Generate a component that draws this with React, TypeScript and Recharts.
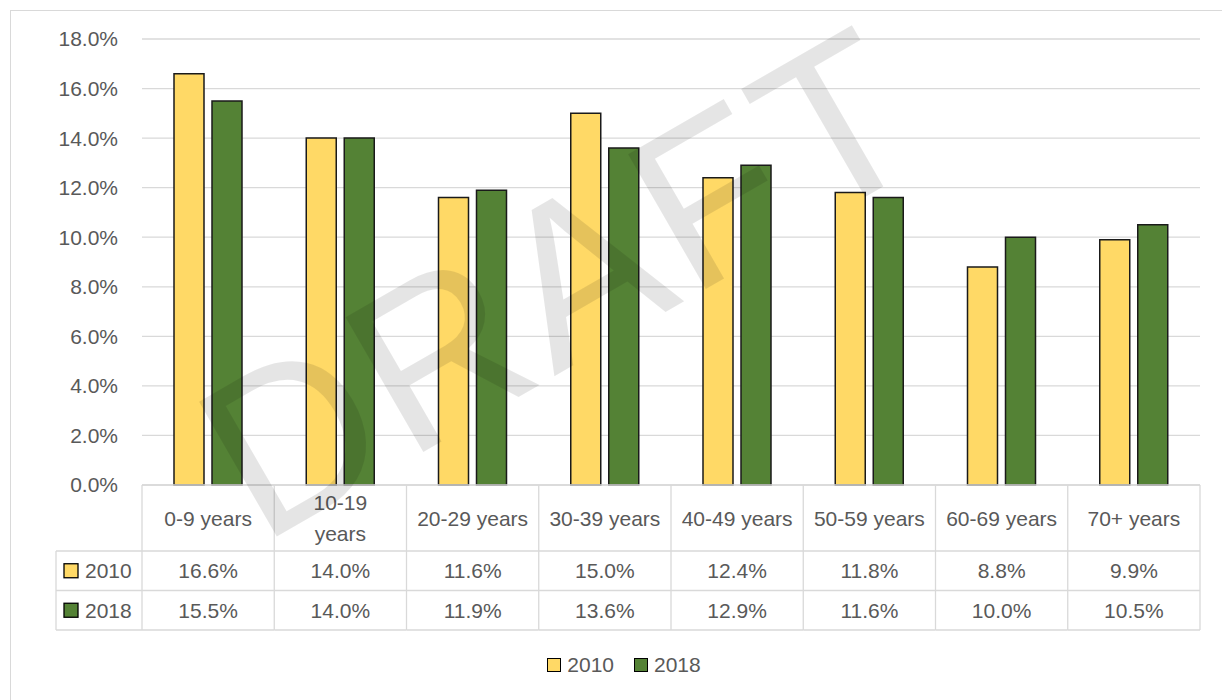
import React from 'react';
import { BarChart, Bar, XAxis, YAxis, CartesianGrid, Legend } from 'recharts';

const categories = ['0-9 years', '10-19 years', '20-29 years', '30-39 years', '40-49 years', '50-59 years', '60-69 years', '70+ years'];
const values2010 = [16.6, 14.0, 11.6, 15.0, 12.4, 11.8, 8.8, 9.9];
const values2018 = [15.5, 14.0, 11.9, 13.6, 12.9, 11.6, 10.0, 10.5];
const yTicks = [0, 2, 4, 6, 8, 10, 12, 14, 16, 18];

const series = [
  { key: 'v2010', name: '2010', values: values2010, color: '#FFD966' },
  { key: 'v2018', name: '2018', values: values2018, color: '#548235' },
];

const data = categories.map((c, i) => ({ name: c, v2010: values2010[i], v2018: values2018[i] }));

const FONT = '"Liberation Sans", Arial, sans-serif';
const TEXT = '#595959';
const LINE = '#d9d9d9';
const W = 1222;
const H = 700;
const M_LEFT = 62;
const Y_W = 80;
const M_RIGHT = 22;
const CELL = (W - M_LEFT - Y_W - M_RIGHT) / categories.length;
const KEY_COL = 86;
const ROW_HEAD = 66;
const ROW_H = 39.5;

const fmt = (v: number) => v.toFixed(1) + '%';

// header labels that Excel wraps onto two lines
const headerLines = (label: string) => (label === '10-19 years' ? ['10-19', 'years'] : [label]);

const TableTick = (props: any) => {
  const { x, y, payload } = props;
  const i = payload.index;
  const half = CELL / 2;
  const l = x - half;
  const r = x + half;
  const r1 = y + ROW_HEAD;
  const r2 = r1 + ROW_H;
  const r3 = r2 + ROW_H;
  const lines = headerLines(payload.value);
  const txt = { fontFamily: FONT, fontSize: 21, fill: TEXT, textAnchor: 'middle' as const, dominantBaseline: 'central' as const };
  return (
    <g>
      {i === 0 && <line x1={l} y1={y} x2={l} y2={r3} stroke={LINE} strokeWidth={1.3} />}
      <line x1={r} y1={y} x2={r} y2={r3} stroke={LINE} strokeWidth={1.3} />
      {[r1, r2, r3].map((yy) => (
        <line key={yy} x1={l} y1={yy} x2={r} y2={yy} stroke={LINE} strokeWidth={1.3} />
      ))}
      {lines.map((t, k) => (
        <text key={k} x={x} y={y + 33 + (k - (lines.length - 1) / 2) * 31} {...txt}>{t}</text>
      ))}
      {series.map((s, k) => (
        <text key={s.key} x={x} y={r1 + ROW_H * k + ROW_H / 2} {...txt}>{fmt(s.values[i])}</text>
      ))}
      {i === 0 && (
        <g>
          <line x1={l - KEY_COL} y1={r1} x2={l - KEY_COL} y2={r3} stroke={LINE} strokeWidth={1.3} />
          {[r1, r2, r3].map((yy) => (
            <line key={yy} x1={l - KEY_COL} y1={yy} x2={l} y2={yy} stroke={LINE} strokeWidth={1.3} />
          ))}
          {series.map((s, k) => (
            <g key={s.key}>
              <rect x={l - KEY_COL + 8} y={r1 + ROW_H * k + ROW_H / 2 - 7} width={14} height={14} fill={s.color} stroke="#000" strokeWidth={1.3} />
              <text x={l - KEY_COL + 29} y={r1 + ROW_H * k + ROW_H / 2} fontFamily={FONT} fontSize={21} fill={TEXT} dominantBaseline="central">{s.name}</text>
            </g>
          ))}
        </g>
      )}
    </g>
  );
};

const LegendContent = (props: any) => {
  const { payload } = props;
  return (
    <div style={{ display: 'flex', justifyContent: 'center', alignItems: 'center', height: 30, paddingRight: 14 }}>
      {(payload || []).map((e: any, k: number) => (
        <div key={k} style={{ display: 'flex', alignItems: 'center', marginLeft: k ? 20 : 0 }}>
          <span style={{ width: 12, height: 12, background: e.color, border: '1.3px solid #000', marginRight: 6, display: 'inline-block' }} />
          <span style={{ fontFamily: FONT, fontSize: 21, color: TEXT }}>{e.value}</span>
        </div>
      ))}
    </div>
  );
};

export default function App() {
  return (
    <div style={{ position: 'absolute', left: 0, top: 0, width: W, height: H, overflow: 'hidden', background: '#fff' }}>
      <div style={{ position: 'absolute', left: 10, top: 10, width: W, height: H, border: `1px solid ${LINE}` }} />
      <BarChart
        width={W}
        height={H}
        data={data}
        margin={{ top: 39, right: M_RIGHT, left: M_LEFT, bottom: 20 }}
        barSize={30}
        barGap={8}
        style={{ position: 'absolute', left: 0, top: 0 }}
      >
        <CartesianGrid vertical={false} stroke={LINE} strokeWidth={1.3} />
        <XAxis
          dataKey="name"
          interval={0}
          height={165}
          tickLine={false}
          tickSize={0}
          tickMargin={0}
          axisLine={{ stroke: LINE, strokeWidth: 1.3 }}
          tick={<TableTick />}
        />
        <YAxis
          width={Y_W}
          domain={[0, 18]}
          ticks={yTicks}
          tickFormatter={fmt}
          axisLine={false}
          tickLine={false}
          tickSize={0}
          tickMargin={24}
          tick={{ fontFamily: FONT, fontSize: 21, fill: TEXT }}
        />
        <Legend verticalAlign="bottom" content={<LegendContent />} />
        {series.map((s) => (
          <Bar key={s.key} dataKey={s.key} name={s.name} fill={s.color} stroke="#1a1a1a" strokeWidth={1.5} isAnimationActive={false} />
        ))}
      </BarChart>
      <svg width={W} height={H} style={{ position: 'absolute', left: 0, top: 0, pointerEvents: 'none' }}>
        <text x={600} y={350} textAnchor="middle" fontFamily={FONT} fontSize={226} letterSpacing={6} fill="#000" fillOpacity={0.1} transform="rotate(-30 600 350)">DRAFT</text>
      </svg>
    </div>
  );
}
